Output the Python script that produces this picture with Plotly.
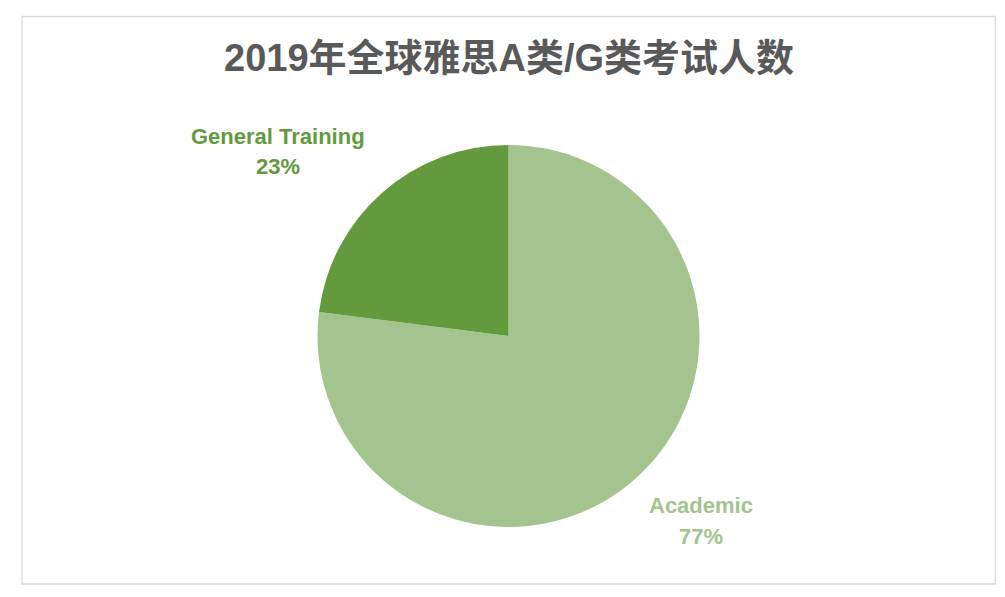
import plotly.graph_objects as go

# data
categories = ["Academic", "General Training"]
shares = [77, 23]
slice_colors = ["#A3C48F", "#629A3D"]

title_text = "2019年全球雅思A类/G类考试人数"
FONT = "Arial, 'Liberation Sans', 'Noto Sans CJK SC', sans-serif"

W, H = 1005, 597
OFF = 8  # page body margin pushes the plot div in by 8px


def px_x(x):
    return (x - OFF) / W


def px_y(y):
    # pixel from top of the window -> paper fraction from bottom
    return 1 - (y - OFF) / H


fig = go.Figure()

fig.add_trace(go.Pie(
    labels=categories,
    values=shares,
    sort=False,
    direction="clockwise",
    rotation=0,
    textinfo="none",
    hoverinfo="skip",
    showlegend=False,
    marker=dict(colors=slice_colors, line=dict(width=0)),
    domain=dict(x=[px_x(317.5), px_x(699.5)], y=[px_y(527), px_y(145)]),
))

total = sum(shares)
label_pos = {
    "Academic": (701, 505, 536),
    "General Training": (278, 136, 167),
}
for name, val, col in zip(categories, shares, slice_colors):
    cx, y1, y2 = label_pos[name]
    pct = "%d%%" % round(val / total * 100)
    for txt, cy in ((name, y1), (pct, y2)):
        fig.add_annotation(
            x=px_x(cx), y=px_y(cy), xref="paper", yref="paper",
            text="<b>%s</b>" % txt,
            showarrow=False, align="center",
            font=dict(family=FONT, size=22, color=col),
            xanchor="center", yanchor="middle",
        )

fig.add_annotation(
    x=px_x(509), y=px_y(58), xref="paper", yref="paper",
    text="<b>%s</b>" % title_text,
    showarrow=False,
    font=dict(family=FONT, size=38, color="#595959"),
    xanchor="center", yanchor="middle",
)

# chart border
fig.add_shape(
    type="rect", xref="paper", yref="paper",
    x0=px_x(22), x1=px_x(995.5), y0=px_y(584), y1=px_y(16.5),
    line=dict(color="#D9D9D9", width=1.3),
    fillcolor="rgba(0,0,0,0)",
)

fig.update_layout(
    width=W, height=H,
    margin=dict(l=0, r=0, t=0, b=0),
    paper_bgcolor="white",
    plot_bgcolor="white",
    font=dict(family=FONT),
)

fig.write_html("out.html")
